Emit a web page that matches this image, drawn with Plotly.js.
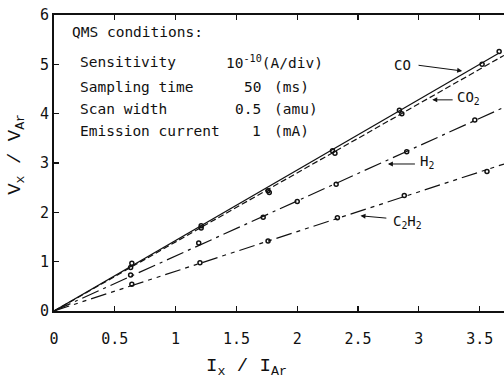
<!DOCTYPE html>
<html>
<head>
<meta charset="utf-8">
<script src="https://cdn.plot.ly/plotly-3.0.1.min.js"></script>
<style>html,body{margin:0;padding:0;background:#fff;overflow:hidden}</style>
</head>
<body>
<div id="chart" style="width:504px;height:378px"></div>
<script>
// Data (Ix/IAr vs Vx/VAr)
const coX   = [0.64, 1.21, 1.76, 2.29, 2.84, 3.66];
const coY   = [0.97, 1.73, 2.44, 3.25, 4.07, 5.26];
const co2X  = [0.63, 1.21, 1.77, 2.31, 2.86, 3.52];
const co2Y  = [0.88, 1.68, 2.40, 3.20, 4.00, 5.00];
const h2X   = [0.63, 1.19, 1.72, 2.00, 2.32, 2.90, 3.46];
const h2Y   = [0.73, 1.38, 1.90, 2.22, 2.57, 3.23, 3.87];
const c2h2X = [0.64, 1.20, 1.76, 2.33, 2.88, 3.56];
const c2h2Y = [0.54, 0.98, 1.42, 1.89, 2.34, 2.83];
const seriesNames = ['CO', 'CO<sub>2</sub>', 'H<sub>2</sub>', 'C<sub>2</sub>H<sub>2</sub>'];
const xTicks = [0, 0.5, 1, 1.5, 2, 2.5, 3, 3.5];
const xTickText = ['0', '0.5', '1', '1.5', '2', '2.5', '3', '3.5'];
const yTicks = [0, 1, 2, 3, 4, 5, 6];
const condTitle = 'QMS conditions:';
const condLabels = ['Sensitivity', 'Sampling time', 'Scan width', 'Emission current'];
const condValues = ['10<sup>-10</sup>', '50', '0.5', '1'];
const condUnits  = ['(A/div)', '(ms)', '(amu)', '(mA)'];
const xTitle = 'I<sub>x</sub> / I<sub>Ar</sub>';
const yTitle = 'V<sub>x</sub> / V<sub>Ar</sub>';

const X_MAX = 3.7, Y_MAX = 6;
const mono = 'DejaVu Sans Mono';
const ink = '#111';

function slopeThroughOrigin(xs, ys) {
  let sxy = 0, sxx = 0;
  xs.forEach((x, i) => { sxy += x * ys[i]; sxx += x * x; });
  return sxy / sxx;
}

const series = [
  {x: coX, y: coY, dash: 'solid', end: coX[coX.length - 1]},
  {x: co2X, y: co2Y, dash: '6px,3px', end: X_MAX},
  {x: h2X, y: h2Y, dash: '18px,5px,3px,5px', end: X_MAX},
  {x: c2h2X, y: c2h2Y, dash: '16px,5px,4px,5px,4px,5px', end: X_MAX}
];

const traces = [];
series.forEach((s, i) => {
  const k = slopeThroughOrigin(s.x, s.y);
  traces.push({
    x: [0, s.end], y: [0, k * s.end], mode: 'lines', name: seriesNames[i],
    line: {color: ink, width: 1.2, dash: s.dash}, hoverinfo: 'skip', showlegend: false
  });
  traces.push({
    x: s.x, y: s.y, mode: 'markers', name: seriesNames[i],
    marker: {symbol: 'circle-open', size: 4, color: ink, line: {width: 1.5, color: ink}},
    showlegend: false
  });
});

const ann = [];
const txtFont = {family: mono, size: 14.5, color: ink};
ann.push({x: 0.13, y: 5.66, xref: 'x', yref: 'y', text: condTitle, showarrow: false,
  xanchor: 'left', yanchor: 'middle', font: txtFont});
const rowY = [5.04, 4.55, 4.10, 3.65];
condLabels.forEach((t, i) => {
  ann.push({x: 0.195, y: rowY[i], xref: 'x', yref: 'y', text: t, showarrow: false,
    xanchor: 'left', yanchor: 'middle', font: txtFont});
  if (i === 0) {
    ann.push({x: 1.40, y: rowY[i], xref: 'x', yref: 'y', text: condValues[i] + condUnits[i], showarrow: false,
      xanchor: 'left', yanchor: 'middle', font: txtFont});
  } else {
    ann.push({x: 1.72, y: rowY[i], xref: 'x', yref: 'y', text: condValues[i], showarrow: false,
      xanchor: 'right', yanchor: 'middle', font: txtFont});
    ann.push({x: 1.79, y: rowY[i], xref: 'x', yref: 'y', text: condUnits[i], showarrow: false,
      xanchor: 'left', yanchor: 'middle', font: txtFont});
  }
});

// Series labels with arrows
const labelPos = [
  {tx: 2.78, ty: 4.98, anchor: 'left', hx: 3.356, hy: 4.865, ax: 2.985, ay: 4.985},
  {tx: 3.30, ty: 4.32, anchor: 'left', hx: 3.11, hy: 4.28, ax: 3.29, ay: 4.28},
  {tx: 2.99, ty: 3.02, anchor: 'left', hx: 2.745, hy: 2.98, ax: 2.98, ay: 2.98},
  {tx: 2.77, ty: 1.80, anchor: 'left', hx: 2.52, hy: 1.93, ax: 2.745, ay: 1.88}
];
labelPos.forEach((p, i) => {
  ann.push({x: p.tx, y: p.ty, xref: 'x', yref: 'y', text: seriesNames[i], showarrow: false,
    xanchor: p.anchor, yanchor: 'middle', font: {family: mono, size: 14, color: ink}});
  ann.push({x: p.hx, y: p.hy, xref: 'x', yref: 'y', ax: p.ax, ay: p.ay, axref: 'x', ayref: 'y',
    text: '', showarrow: true, arrowhead: 2, arrowsize: 1, arrowwidth: 1, arrowcolor: ink, standoff: 0});
});

// Axis titles
const titleFont = {family: 'Liberation Mono', size: 19, color: ink};
ann.push({x: 0.427, y: -0.19, xref: 'paper', yref: 'paper', text: xTitle, showarrow: false,
  xanchor: 'center', yanchor: 'middle', font: titleFont});
ann.push({x: -0.085, y: 0.53, xref: 'paper', yref: 'paper', text: yTitle, showarrow: false,
  textangle: -90, xanchor: 'center', yanchor: 'middle', font: titleFont});

const axisCommon = {
  showline: true, linecolor: ink, linewidth: 2, ticks: 'inside', ticklen: 5, tickwidth: 1.2,
  tickcolor: ink, showgrid: false, zeroline: false,
  tickfont: {family: mono, size: 15, color: ink}
};

const layout = {
  width: 504, height: 378,
  margin: {l: 54, r: 0, t: 15, b: 67},
  paper_bgcolor: '#fff', plot_bgcolor: '#fff',
  showlegend: false,
  xaxis: Object.assign({}, axisCommon, {
    range: [0, X_MAX], tickvals: xTicks, ticktext: xTickText, mirror: 'ticks', ticklabelstandoff: 13
  }),
  yaxis: Object.assign({}, axisCommon, {
    range: [0, Y_MAX], tickvals: yTicks, mirror: false
  }),
  annotations: ann
};

Plotly.newPlot('chart', traces, layout, {displayModeBar: false, staticPlot: true});
</script>
</body>
</html>
